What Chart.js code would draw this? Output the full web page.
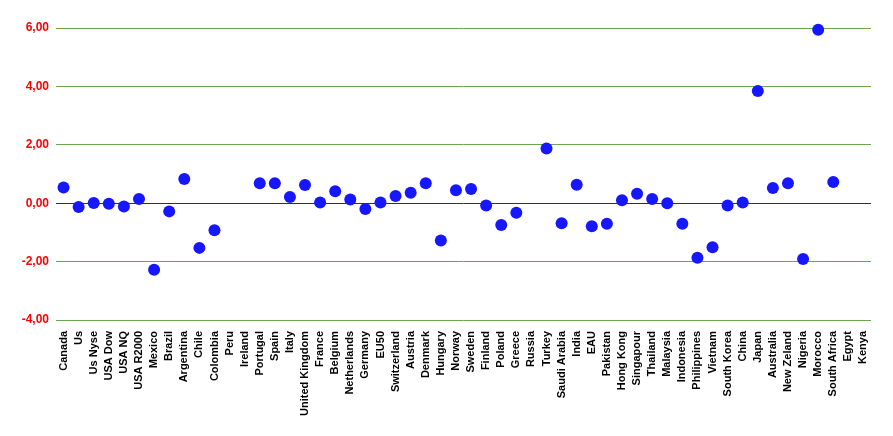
<!DOCTYPE html>
<html>
<head>
<meta charset="utf-8">
<script src="https://cdn.jsdelivr.net/npm/chart.js@4"></script>
<style>
  html, body { margin: 0; padding: 0; background: #fff; }
  #wrap { width: 893px; height: 436px; }
</style>
</head>
<body>
<div id="wrap"><canvas id="chart"></canvas></div>
<script>
const countries = ["Canada", "Us", "Us Nyse", "USA Dow", "USA NQ", "USA R2000", "Mexico", "Brazil",
  "Argentina", "Chile", "Colombia", "Peru", "Ireland", "Portugal", "Spain", "Italy", "United Kingdom",
  "France", "Belgium", "Netherlands", "Germany", "EU50", "Switzerland", "Austria", "Denmark", "Hungary",
  "Norway", "Sweden", "Finland", "Poland", "Greece", "Russia", "Turkey", "Saudi Arabia", "India", "EAU",
  "Pakistan", "Hong Kong", "Singapour", "Thailand", "Malaysia", "Indonesia", "Philippines", "Vietnam",
  "South Korea", "China", "Japan", "Australia", "New Zeland", "Nigeria", "Morocco", "South Africa",
  "Egypt", "Kenya"];

const values = [0.54, -0.13, 0.01, -0.02, -0.11, 0.14, -2.28, -0.28,
  0.83, -1.53, -0.93, null, null, 0.68, 0.68, 0.21, 0.62,
  0.02, 0.41, 0.13, -0.20, 0.02, 0.25, 0.36, 0.68, -1.28,
  0.44, 0.49, -0.08, -0.75, -0.33, null, 1.87, -0.69, 0.63, -0.79,
  -0.70, 0.10, 0.32, 0.14, 0.00, -0.70, -1.87, -1.51,
  -0.08, 0.02, 3.84, 0.52, 0.68, -1.91, 5.94, 0.73,
  null, null];

const yMin = -4, yMax = 6, yStep = 2;

const fmt = (v) => v.toFixed(2).replace(".", ",");

new Chart(document.getElementById("chart"), {
  type: "line",
  data: {
    labels: countries,
    datasets: [{
      data: values,
      showLine: false,
      clip: false,
      pointRadius: 6,
      pointHoverRadius: 6,
      pointBackgroundColor: "#1616ff",
      pointBorderColor: "#1616ff",
      pointBorderWidth: 0
    }]
  },
  options: {
    responsive: true,
    maintainAspectRatio: false,
    animation: false,
    layout: { padding: { top: 28, right: 22, bottom: 16, left: 0 } },
    plugins: { legend: { display: false }, tooltip: { enabled: false } },
    scales: {
      x: {
        offset: true,
        grid: { display: false },
        border: { display: false },
        ticks: {
          autoSkip: false,
          maxRotation: 90,
          minRotation: 90,
          padding: 3,
          color: "#000",
          font: { family: "'Liberation Sans', Arial, sans-serif", size: 11, weight: "bold" }
        },
        afterFit: (s) => { s.height = 100; }
      },
      y: {
        min: yMin,
        max: yMax,
        border: { display: false },
        grid: {
          drawTicks: false,
          color: (ctx) => ctx.tick && ctx.tick.value === 0 ? "#333333" : "#6aa84f",
          lineWidth: 1
        },
        ticks: {
          stepSize: yStep,
          padding: 7,
          color: "#ff0000",
          font: { family: "'Liberation Sans', Arial, sans-serif", size: 12, weight: "bold" },
          callback: (v) => fmt(v)
        },
        afterFit: (s) => { s.width = 56; }
      }
    }
  }
});
</script>
</body>
</html>
